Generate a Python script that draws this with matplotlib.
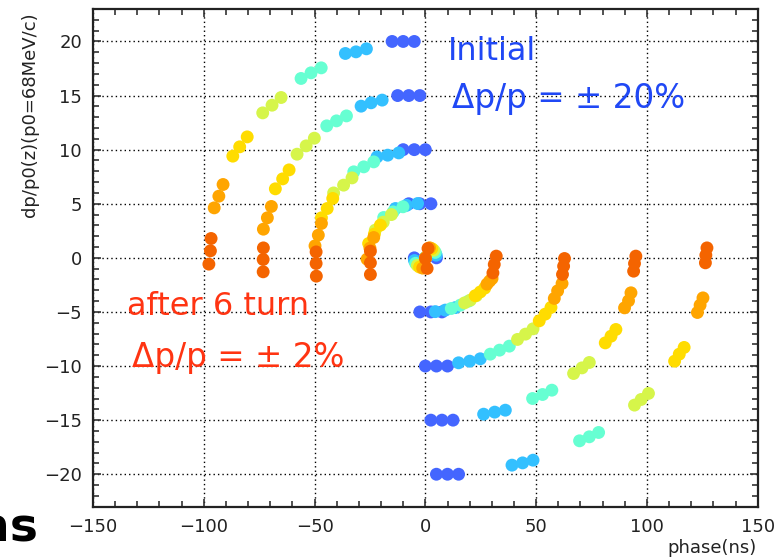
import matplotlib
matplotlib.use("Agg")
import matplotlib.pyplot as plt
from matplotlib.ticker import MultipleLocator

# ---- data: phase (ns) and dp/p0 values per turn, arms dp = 20,15,10,5,0,-5,-10,-15,-20 ----
turn0_phase = [-15, -10, -5, -12.5, -7.5, -2.5, -10, -5, 0, -7.5, -2.5, 2.5, -5, 0, 5,
               -2.5, 2.5, 7.5, 0, 5, 10, 2.5, 7.5, 12.5, 5, 10, 15]
turn0_dp = [20, 20, 20, 15, 15, 15, 10, 10, 10, 5, 5, 5, 0, 0, 0,
            -5, -5, -5, -10, -10, -10, -15, -15, -15, -20, -20, -20]

turn1_phase = [-36.1, -31.3, -26.6, -29.0, -24.5, -19.5, -21.8, -17.0, -12.0, -13.5, -8.5, -3.5,
               -4.9, 0, 4.9, 4.5, 9.0, 13.5, 15.0, 20.0, 24.8, 26.3, 31.3, 36.1, 39.1, 43.9, 48.6]
turn1_dp = [18.89, 19.04, 19.32, 14.02, 14.33, 14.58, 9.33, 9.49, 9.70, 4.56, 4.85, 5.02,
            -0.25, 0, 0.25, -4.97, -4.83, -4.6, -9.70, -9.55, -9.33, -14.45, -14.26, -14.08,
            -19.16, -18.95, -18.70]

turn2_phase = [-56.1, -51.6, -47.0, -44.5, -40.1, -35.6, -32.3, -27.8, -23.3, -18.8, -14.5, -10.1,
               -4.4, 0.1, 4.5, 11.7, 15.8, 19.5, 29.3, 33.5, 37.9, 48.4, 52.9, 57.1, 69.6, 74.0, 78.2]
turn2_dp = [16.58, 17.10, 17.56, 12.20, 12.66, 13.12, 7.95, 8.41, 8.87, 3.73, 4.25, 4.72,
            -0.5, 0, 0.5, -4.68, -4.37, -4.0, -8.90, -8.53, -8.16, -13.0, -12.63, -12.23,
            -16.91, -16.54, -16.14]

turn3_phase = [-73.4, -69.2, -65.1, -57.9, -53.8, -50.1, -41.4, -36.9, -33.1, -22.6, -19.0, -15.3,
               -3.6, 0.1, 3.8, 17.7, 20.3, 23.0, 41.6, 45.2, 48.6, 66.9, 70.7, 74.0, 94.4, 97.4, 100.7]
turn3_dp = [13.40, 14.11, 14.82, 9.58, 10.35, 11.06, 6.0, 6.72, 7.39, 2.56, 3.3, 4.0,
            -0.7, 0, 0.7, -4.16, -3.91, -3.5, -7.54, -7.05, -6.56, -10.69, -10.17, -9.67,
            -13.61, -13.09, -12.53]

turn4_phase = [-86.9, -83.8, -80.4, -67.7, -64.4, -61.5, -46.9, -44.3, -41.8, -25.6, -23.0, -20.3,
               -2.6, 0.1, 2.9, 22.5, 24.8, 26.8, 51.4, 54.1, 56.7, 81.2, 83.8, 86.0, 112.5, 114.6, 116.8]
turn4_dp = [9.40, 10.26, 11.18, 6.38, 7.30, 8.13, 3.70, 4.56, 5.49, 1.33, 2.2, 3.02,
            -0.85, 0, 0.85, -3.5, -3.15, -2.8, -5.82, -5.20, -4.58, -7.86, -7.24, -6.62,
            -9.55, -8.90, -8.28]

turn5_phase = [-95.3, -93.2, -91.3, -73.1, -71.3, -69.5, -49.8, -48.3, -46.9, -26.3, -25.0, -23.3,
               -1.2, 0.1, 1.9, 27.8, 29.0, 30.1, 58.2, 59.7, 61.7, 89.9, 91.7, 92.8, 122.8, 124.0, 125.3]
turn5_dp = [4.62, 5.70, 6.78, 2.65, 3.70, 4.75, 1.11, 2.10, 3.18, -0.12, 0.9, 1.88,
            -0.95, 0, 0.93, -2.43, -2.15, -1.91, -3.75, -3.05, -2.37, -4.62, -3.97, -3.23,
            -5.05, -4.37, -3.70]

turn6_phase = [-97.7, -97.0, -96.7, -73.2, -73.2, -73.1, -49.2, -49.3, -49.3, -24.8, -24.8, -24.8,
               0.8, 0, 1.2, 30.5, 31.1, 32.0, 61.9, 62.4, 62.8, 94.0, 94.4, 95.0, 126.4, 126.6, 127.1]
turn6_dp = [-0.58, 0.65, 1.79, -1.29, -0.15, 0.92, -1.69, -0.52, 0.55, -1.54, -0.46, 0.62,
            -0.98, -0.06, 0.87, -1.39, -0.61, 0.16, -1.53, -0.77, -0.06, -1.23, -0.52, 0.16,
            -0.46, 0.25, 0.92]

turn_colors = ["#4466ff", "#33c0ff", "#66ffd2", "#d6f54a", "#ffdc00", "#ffa500", "#f46400"]

x_ticks = [-150, -100, -50, 0, 50, 100, 150]
y_ticks = [-20, -15, -10, -5, 0, 5, 10, 15, 20]

phases = [turn0_phase, turn1_phase, turn2_phase, turn3_phase, turn4_phase, turn5_phase, turn6_phase]
dps = [turn0_dp, turn1_dp, turn2_dp, turn3_dp, turn4_dp, turn5_dp, turn6_dp]

fig = plt.figure(figsize=(7.76, 5.57), dpi=100)
ax = fig.add_axes([93 / 776, 1 - 506.7 / 557, (757.7 - 93) / 776, (506.7 - 9) / 557])

for ph, dp, c in zip(phases, dps, turn_colors):
    ax.scatter(ph, dp, s=86, color=c, edgecolors="none", zorder=3)

ax.set_xlim(-150, 150)
ax.set_ylim(-23, 23)
ax.set_xticks(x_ticks)
ax.set_yticks(y_ticks)
ax.set_xticklabels([str(v).replace("-", "\u2212") for v in x_ticks])
ax.set_yticklabels([str(v).replace("-", "\u2212") for v in y_ticks])
ax.xaxis.set_minor_locator(MultipleLocator(10))
ax.yaxis.set_minor_locator(MultipleLocator(1))
ax.tick_params(which="both", direction="in", top=True, right=True, width=1.2, color="#333333")
ax.tick_params(which="major", length=6, labelsize=13, pad=8, labelcolor="#222222")
ax.tick_params(which="minor", length=4)
ax.grid(True, which="major", color="black", linestyle=(0, (1, 2.2)), linewidth=1.0, zorder=0)
ax.set_axisbelow(True)
for sp in ax.spines.values():
    sp.set_linewidth(1.6)
    sp.set_color("#222222")

fig.text(30 / 776, 1 - 12 / 557, "dp/p0(z)(p0=68MeV/c)", rotation=90, ha="center", va="top",
         fontsize=13, color="#222222")
fig.text(757 / 776, 1 - 548 / 557, "phase(ns)", ha="right", va="center", fontsize=13, color="#222222")

blue_txt = "#2048f5"
red_txt = "#ff3412"
fig.text(448 / 776, 1 - 60 / 557, "Initial", ha="left", va="baseline", fontsize=23, color=blue_txt)
fig.text(452 / 776, 1 - 108 / 557, "\u0394p/p = \u00b1 20%", ha="left", va="baseline", fontsize=23.5,
         color=blue_txt)
fig.text(127 / 776, 1 - 315 / 557, "after 6 turn", ha="left", va="baseline", fontsize=23, color=red_txt)
fig.text(132 / 776, 1 - 367 / 557, "\u0394p/p = \u00b1 2%", ha="left", va="baseline", fontsize=23.5,
         color=red_txt)

fig.text(38 / 776, 1 - 541 / 557, "ns", ha="right", va="baseline", fontsize=34, fontweight="bold",
         color="black")

fig.savefig("out.png", dpi=100)
